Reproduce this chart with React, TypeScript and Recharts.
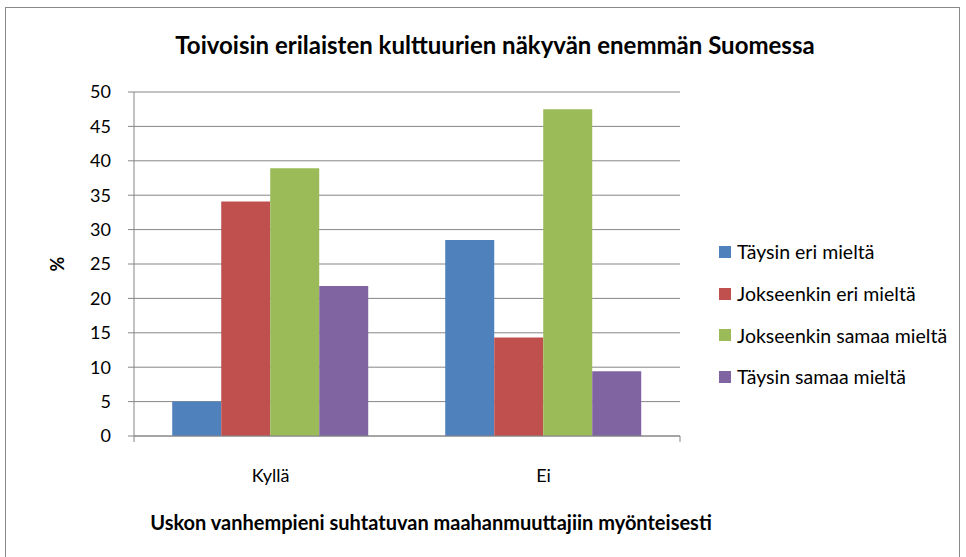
import React from 'react';
import { BarChart, Bar, XAxis, YAxis, CartesianGrid } from 'recharts';

const categories = ['Kyllä', 'Ei'];
const taysinEri = [5.0, 28.5];
const jokseenkinEri = [34.1, 14.3];
const jokseenkinSamaa = [38.9, 47.5];
const taysinSamaa = [21.8, 9.4];
const yTicks = [0, 5, 10, 15, 20, 25, 30, 35, 40, 45, 50];
const seriesNames = ['Täysin eri mieltä', 'Jokseenkin eri mieltä', 'Jokseenkin samaa mieltä', 'Täysin samaa mieltä'];
const seriesColors = ['#4F81BD', '#C0504D', '#9BBB59', '#8064A2'];
const seriesKeys = ['a', 'b', 'c', 'd'];

const data = categories.map((c, i) => ({
  name: c,
  a: taysinEri[i],
  b: jokseenkinEri[i],
  c: jokseenkinSamaa[i],
  d: taysinSamaa[i],
}));

const FONT = 'Lato, "Open Sans", sans-serif';

export default function App() {
  return (
    <div style={{ position: 'absolute', left: 0, top: 0, width: 966, height: 557, background: '#fff', fontFamily: FONT, overflow: 'hidden' }}>
      <div style={{ position: 'absolute', left: 5, top: 7, width: 955, height: 560, border: '1px solid #898989', boxSizing: 'border-box' }} />
      <div style={{ position: 'absolute', left: 0, top: 30, width: 990, textAlign: 'center', fontWeight: 700, fontSize: 24, lineHeight: '30px', color: '#000' }}>
        Toivoisin erilaisten kulttuurien näkyvän enemmän Suomessa
      </div>
      <div style={{ position: 'absolute', left: 0, top: 509, width: 862, textAlign: 'center', fontWeight: 700, fontSize: 20, lineHeight: '26px', color: '#000' }}>
        Uskon vanhempieni suhtatuvan maahanmuuttajiin myönteisesti
      </div>
      <div style={{ position: 'absolute', left: 47, top: 254, width: 20, height: 20, transform: 'rotate(-90deg)', fontWeight: 700, fontSize: 18, textAlign: 'center', lineHeight: '20px' }}>
        %
      </div>
      <div style={{ position: 'absolute', left: 0, top: 0 }}>
        <BarChart
          width={966}
          height={557}
          data={data}
          margin={{ top: 92, right: 286, bottom: 0, left: 74 }}
          barCategoryGap="14%"
          barGap={0}
        >
          <CartesianGrid vertical={false} stroke="#868686" strokeWidth={1} />
          <XAxis
            xAxisId="bnd"
            type="number"
            domain={[0, 2]}
            ticks={[0, 1, 2]}
            allowDataOverflow
            height={6}
            tickSize={6}
            tickFormatter={() => ''}
            stroke="#868686"
            axisLine={{ stroke: '#868686' }}
            tickLine={{ stroke: '#868686' }}
          />
          <XAxis
            xAxisId="cat"
            dataKey="name"
            height={115}
            axisLine={false}
            tickLine={false}
            tickMargin={21}
            tick={{ fill: '#000', fontSize: 18, fontFamily: FONT }}
          />
          <YAxis
            width={60}
            domain={[0, 50]}
            ticks={yTicks}
            interval={0}
            tickSize={6}
            tickMargin={17}
            axisLine={{ stroke: '#868686' }}
            tickLine={{ stroke: '#868686' }}
            tick={{ fill: '#000', fontSize: 18, fontFamily: FONT }}
          />
          {seriesKeys.map((k, i) => (
            <Bar key={k} xAxisId="cat" dataKey={k} name={seriesNames[i]} fill={seriesColors[i]} isAnimationActive={false} />
          ))}
        </BarChart>
      </div>
      <div style={{ position: 'absolute', left: 719, top: 231 }}>
        {seriesNames.map((n, i) => (
          <div key={n} style={{ display: 'flex', alignItems: 'center', height: 41.7, fontSize: 19.5, color: '#000' }}>
            <span style={{ display: 'inline-block', width: 12, height: 12, background: seriesColors[i], marginRight: 6 }} />
            <span>{n}</span>
          </div>
        ))}
      </div>
    </div>
  );
}
